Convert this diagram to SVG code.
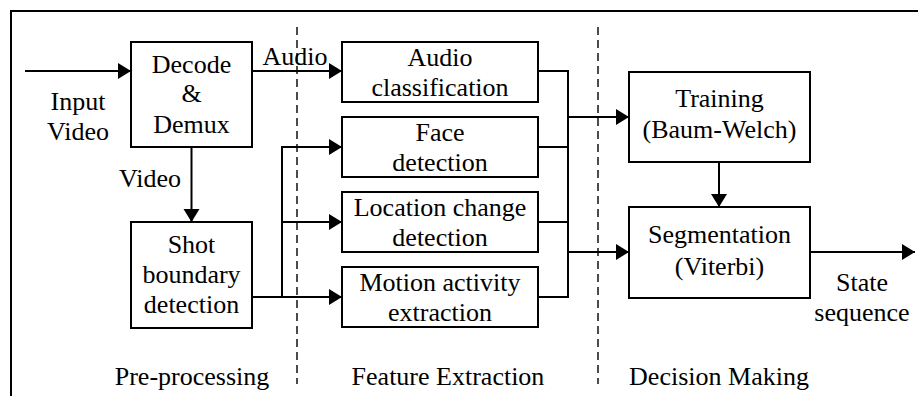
<svg xmlns="http://www.w3.org/2000/svg" width="918" height="396" viewBox="0 0 918 396">
  <style>
    .box { fill: #fff; stroke: #000; stroke-width: 2; }
    .wire { fill: none; stroke: #000; stroke-width: 2; }
    .div { fill: none; stroke: #000; stroke-width: 1.4; stroke-dasharray: 8 5; }
    .t { font-size: 26px; fill: #000; text-anchor: middle; }
  </style>
  <defs>
    <marker id="arrow" markerUnits="userSpaceOnUse" markerWidth="14" markerHeight="18" refX="13" refY="8" orient="auto">
      <path d="M0,0 L13,8 L0,16 z" fill="#000"/>
    </marker>
  </defs>

  <rect width="918" height="396" fill="#fff"/>
  <!-- frame (left and top edges) -->
  <path d="M11,396 V11 H918" fill="none" stroke="#000" stroke-width="2"/>

  <!-- stage dividers -->
  <g id="dividers">
    <line class="div" x1="297" y1="27" x2="297" y2="384"/>
    <line class="div" x1="598" y1="27" x2="598" y2="384"/>
  </g>

  <!-- connectors -->
  <g id="connectors">
    <path class="wire" d="M25,71 H131" marker-end="url(#arrow)"/>
    <path class="wire" d="M252,71 H342" marker-end="url(#arrow)"/>
    <path class="wire" d="M191.5,147 V222" marker-end="url(#arrow)"/>
    <path class="wire" d="M252,297 H342" marker-end="url(#arrow)"/>
    <path class="wire" d="M282,297 V147 H342" marker-end="url(#arrow)"/>
    <path class="wire" d="M282,222 H342" marker-end="url(#arrow)"/>
    <path class="wire" d="M538,71 H568 V297 H538 M538,147 H568 M538,222 H568"/>
    <path class="wire" d="M568,117 H629" marker-end="url(#arrow)"/>
    <path class="wire" d="M568,252 H629" marker-end="url(#arrow)"/>
    <path class="wire" d="M719,162 V207" marker-end="url(#arrow)"/>
    <path class="wire" d="M810,252 H915" marker-end="url(#arrow)"/>
  </g>

  <g font-family="Liberation Serif, Times New Roman, serif">
    <!-- connector labels -->
    <g id="labels">
      <text class="t" x="78" y="110">Input</text>
      <text class="t" x="78" y="140">Video</text>
      <text class="t" x="295" y="65">Audio</text>
      <text class="t" x="150" y="187">Video</text>
      <text class="t" x="862" y="291">State</text>
      <text class="t" x="862" y="321">sequence</text>
    </g>

    <g id="decode">
      <rect class="box" x="131" y="42" width="121" height="105"/>
      <text class="t" x="191.5" y="73">Decode</text>
      <text class="t" x="191.5" y="102">&amp;</text>
      <text class="t" x="191.5" y="133">Demux</text>
    </g>

    <g id="shot">
      <rect class="box" x="131" y="222" width="121" height="106"/>
      <text class="t" x="191.5" y="253">Shot</text>
      <text class="t" x="191.5" y="283">boundary</text>
      <text class="t" x="191.5" y="313">detection</text>
    </g>

    <g id="audio-class">
      <rect class="box" x="342" y="42" width="196" height="60"/>
      <text class="t" x="440" y="66">Audio</text>
      <text class="t" x="440" y="96">classification</text>
    </g>

    <g id="face">
      <rect class="box" x="342" y="117" width="196" height="60"/>
      <text class="t" x="440" y="141">Face</text>
      <text class="t" x="440" y="171">detection</text>
    </g>

    <g id="location">
      <rect class="box" x="342" y="192" width="196" height="60"/>
      <text class="t" x="440" y="216">Location change</text>
      <text class="t" x="440" y="246">detection</text>
    </g>

    <g id="motion">
      <rect class="box" x="342" y="267" width="196" height="60"/>
      <text class="t" x="440" y="291">Motion activity</text>
      <text class="t" x="440" y="321">extraction</text>
    </g>

    <g id="training">
      <rect class="box" x="629" y="72" width="181" height="90"/>
      <text class="t" x="719.5" y="107">Training</text>
      <text class="t" x="719.5" y="138">(Baum-Welch)</text>
    </g>

    <g id="segmentation">
      <rect class="box" x="629" y="207" width="181" height="91"/>
      <text class="t" x="719.5" y="243">Segmentation</text>
      <text class="t" x="719.5" y="275">(Viterbi)</text>
    </g>

    <!-- stage captions -->
    <g id="stages">
      <text class="t" x="192" y="385">Pre-processing</text>
      <text class="t" x="448" y="385">Feature Extraction</text>
      <text class="t" x="719" y="385">Decision Making</text>
    </g>
  </g>
</svg>
